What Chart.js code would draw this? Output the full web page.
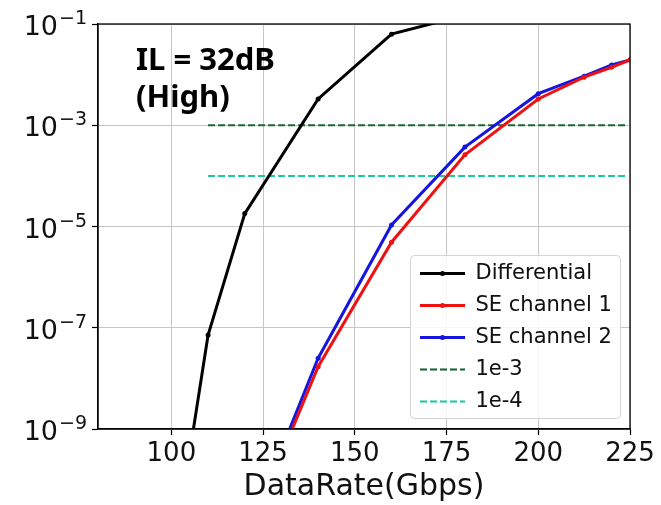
<!DOCTYPE html>
<html>
<head>
<meta charset="utf-8">
<script src="https://cdn.jsdelivr.net/npm/chart.js@4.4.1/dist/chart.umd.min.js"></script>
<style>
  html, body { margin: 0; padding: 0; background: #fff; }
  #wrap { width: 661px; height: 505px; }
</style>
</head>
<body>
<div id="wrap"><canvas id="berChart" width="661" height="505"></canvas></div>
<script>
// values (BER vs data rate)
const diffRate = [100, 110, 120, 140, 160, 180];
const diffBer = [1.6e-12, 7.2e-8, 1.8e-5, 3.3e-3, 6.3e-2, 1.5e-1];
const seRate = [120, 140, 160, 180, 200, 212.5, 220, 225];
const se1Ber = [5.5e-12, 1.7e-8, 4.9e-6, 2.6e-4, 3.3e-3, 8.9e-3, 1.4e-2, 1.95e-2];
const se2Ber = [6.3e-12, 2.5e-8, 1.07e-5, 3.7e-4, 4.2e-3, 9.3e-3, 1.55e-2, 1.95e-2];
const limitRate = [110, 224];
const limit1e3 = [1e-3, 1e-3];
const limit1e4 = [1e-4, 1e-4];
const xTicks = [100, 125, 150, 175, 200, 225];
const yTicks = [1e-9, 1e-7, 1e-5, 1e-3, 1e-1];
const seriesNames = ['Differential', 'SE channel 1', 'SE channel 2', '1e-3', '1e-4'];
const noteLines = ['IL = 32dB', '(High)'];

const toPoints = (xs, ys) => xs.map((x, i) => ({ x: x, y: ys[i] }));

const LEG = { left: 409, top: 252, pad: 11, box: 45, font: 21 };

// legend sits inside the plot with a matplotlib style frame
const legendInside = {
  id: 'legendInside',
  afterLayout(chart) {
    const lg = chart.legend;
    lg.left = LEG.left;
    lg.top = LEG.top;
    lg.right = LEG.left + 211;
    lg.bottom = chart.chartArea.bottom;
  },
  beforeDatasetsDraw(chart) {
    const ctx = chart.ctx;
    ctx.save();
    ctx.beginPath();
    ctx.roundRect(410.5, 255.5, 210, 163, 4);
    ctx.fillStyle = 'rgba(255,255,255,0.85)';
    ctx.fill();
    ctx.strokeStyle = '#d4d4d4';
    ctx.lineWidth = 1;
    ctx.stroke();
    ctx.restore();
    chart.legend.draw();
    // little markers on the solid legend lines
    ctx.save();
    for (let i = 0; i < 3; i++) {
      const ds = chart.data.datasets[i];
      ctx.beginPath();
      ctx.arc(LEG.left + LEG.pad + LEG.box / 2, LEG.top + LEG.pad + i * (LEG.font + LEG.pad) + LEG.font / 2, 2.5, 0, Math.PI * 2);
      ctx.fillStyle = ds.borderColor;
      ctx.fill();
    }
    ctx.restore();
  },
  afterDatasetsDraw(chart) {
    const { ctx, chartArea: a } = chart;
    ctx.save();
    ctx.strokeStyle = '#000';
    ctx.lineWidth = 1.3;
    ctx.strokeRect(a.left, a.top, a.right - a.left, a.bottom - a.top);
    ctx.restore();
  },
  afterDraw(chart) {
    const ctx = chart.ctx;
    ctx.save();
    ctx.fillStyle = '#000';
    ctx.font = 'bold 31px "Noto Sans"';
    ctx.textBaseline = 'alphabetic';
    ctx.fillText(noteLines[0], 136, 70);
    ctx.fillText(noteLines[1], 136, 107);

    // y tick labels as 10 with a raised exponent, like mathtext
    const ys = chart.scales.y;
    ctx.fillStyle = '#111';
    yTicks.forEach(v => {
      const py = ys.getPixelForValue(v);
      const exp = '\u2212' + Math.abs(Math.round(Math.log10(v)));
      ctx.font = '27px "DejaVu Sans"';
      const wBase = ctx.measureText('10').width;
      ctx.font = '19px "DejaVu Sans"';
      const wExp = ctx.measureText(exp).width;
      const x0 = 86 - wBase - wExp;
      ctx.font = '27px "DejaVu Sans"';
      ctx.fillText('10', x0, py + 11);
      ctx.font = '19px "DejaVu Sans"';
      ctx.fillText(exp, x0 + wBase + 1, py);
    });
    ctx.restore();
  }
};

const solid = (label, xs, ys, color) => ({
  label: label,
  data: toPoints(xs, ys),
  borderColor: color,
  backgroundColor: color,
  borderWidth: 3,
  pointRadius: 2.5,
  pointBorderWidth: 0,
  pointBackgroundColor: color,
  clip: 0
});
const dashed = (label, ys, color) => ({
  label: label,
  data: toPoints(limitRate, ys),
  borderColor: color,
  backgroundColor: color,
  borderWidth: 2,
  borderDash: [7, 3],
  pointRadius: 0,
  clip: 0
});

new Chart(document.getElementById('berChart'), {
  type: 'line',
  data: {
    datasets: [
      solid(seriesNames[0], diffRate, diffBer, '#000000'),
      solid(seriesNames[1], seRate, se1Ber, '#ee1111'),
      solid(seriesNames[2], seRate, se2Ber, '#1515dd'),
      dashed(seriesNames[3], limit1e3, '#1d6335'),
      dashed(seriesNames[4], limit1e4, '#20c8a0')
    ]
  },
  options: {
    responsive: false,
    devicePixelRatio: 1,
    animation: false,
    layout: { padding: { top: 24, right: 31, left: 0, bottom: 0 } },
    plugins: {
      tooltip: { enabled: false },
      legend: {
        position: 'chartArea',
        align: 'start',
        labels: {
          usePointStyle: true,
          pointStyle: 'line',
          pointStyleWidth: LEG.box,
          padding: LEG.pad,
          color: '#111',
          font: { family: 'DejaVu Sans', size: LEG.font },
          generateLabels(chart) {
            const items = Chart.defaults.plugins.legend.labels.generateLabels(chart);
            items.forEach(it => {
              const ds = chart.data.datasets[it.datasetIndex];
              it.strokeStyle = ds.borderColor;
              it.lineWidth = ds.borderWidth;
              it.lineDash = ds.borderDash || [];
            });
            return items;
          }
        }
      }
    },
    scales: {
      x: {
        type: 'linear',
        min: 80,
        max: 225,
        afterBuildTicks: s => { s.ticks = xTicks.map(v => ({ value: v })); },
        afterFit: s => { s.height = 76; },
        grid: { color: '#c6c6c6', lineWidth: 1, tickLength: 6, tickColor: '#000', tickWidth: 1.2 },
        border: { color: '#000', width: 1.3 },
        ticks: { color: '#111', font: { family: 'DejaVu Sans', size: 26 }, padding: 4, maxRotation: 0, autoSkip: false },
        title: { display: true, text: 'DataRate(Gbps)', color: '#111', font: { family: 'DejaVu Sans', size: 30 }, padding: { top: 0, bottom: 0 } }
      },
      y: {
        type: 'logarithmic',
        min: 1e-9,
        max: 1e-1,
        afterBuildTicks: s => { s.ticks = yTicks.map(v => ({ value: v })); },
        afterFit: s => { s.width = 98; },
        grid: { color: '#c6c6c6', lineWidth: 1, tickLength: 6, tickColor: '#000', tickWidth: 1.2 },
        border: { color: '#000', width: 1.3 },
        ticks: { display: false }
      }
    }
  },
  plugins: [legendInside]
});
</script>
</body>
</html>
